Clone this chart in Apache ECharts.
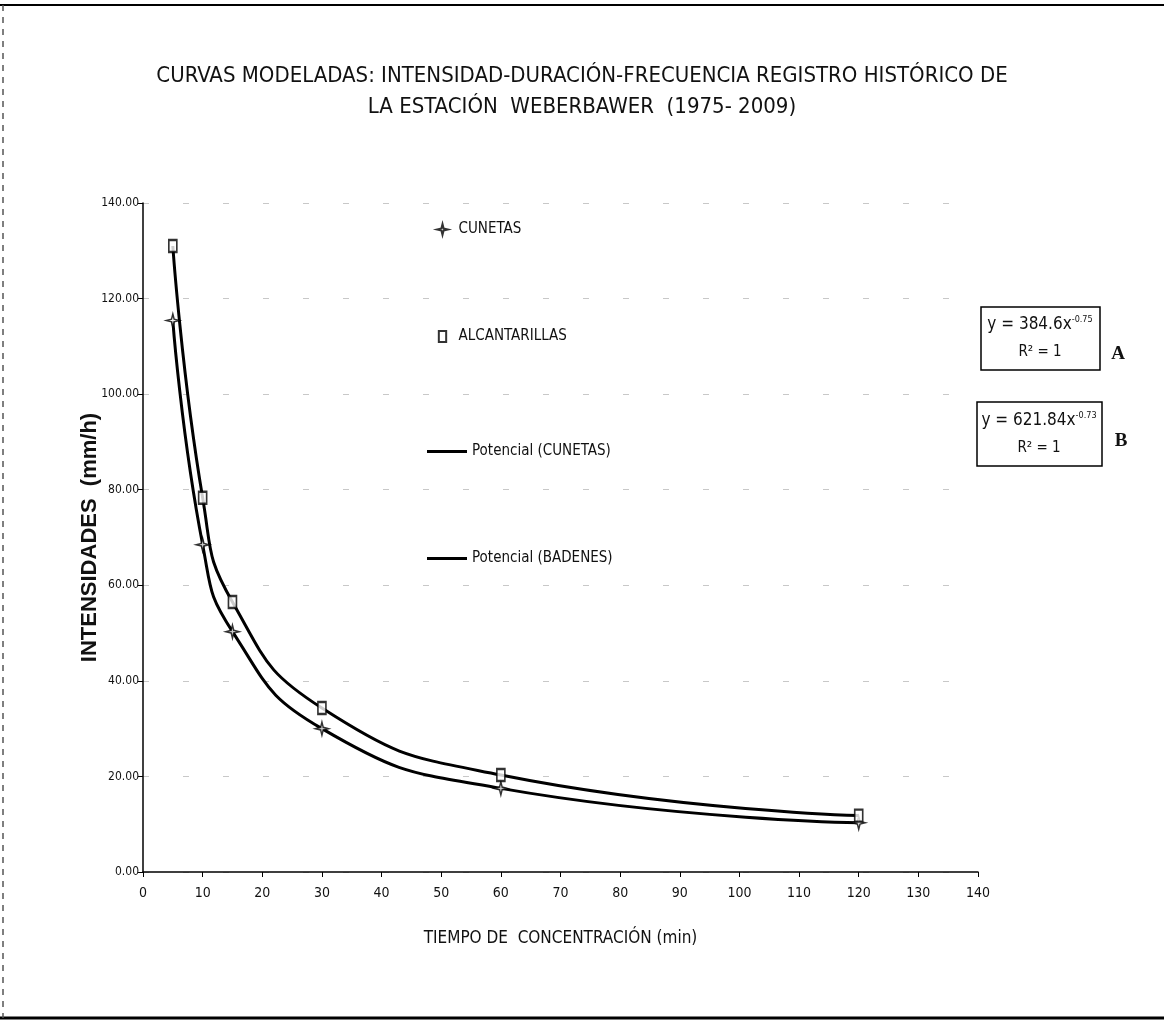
<!DOCTYPE html>
<html><head><meta charset="utf-8">
<script src="https://cdn.jsdelivr.net/npm/echarts@6/dist/echarts.min.js"></script>
<style>html,body{margin:0;padding:0;background:#fff}#c{width:1164px;height:1029px}</style>
</head><body><div id="c"></div>
<script>
const tiempos = [5, 10, 15, 30, 60, 120];
const cunetas = [115.4, 68.5, 50.3, 30.0, 17.5, 10.3];
const alcantarillas = [131.0, 78.3, 56.5, 34.3, 20.3, 11.8];
const titleLines = ['CURVAS MODELADAS: INTENSIDAD-DURACIÓN-FRECUENCIA REGISTRO HISTÓRICO DE', 'LA ESTACIÓN  WEBERBAWER  (1975- 2009)'];
const seriesNames = ['CUNETAS', 'ALCANTARILLAS', 'Potencial (CUNETAS)', 'Potencial (BADENES)'];

const NARROW = "'Liberation Sans Narrow', 'Arial Narrow', 'DejaVu Sans Condensed', sans-serif";
const pair = (xs, ys) => xs.map((x, i) => [x, ys[i]]);
const star = 'path://M0,-10 L2,-2 L10,0 L2,2 L0,10 L-2,2 L-10,0 L-2,-2 Z';
const box = 'path://M0,0 L8,0 L8,12 L0,12 Z';

const chart = echarts.init(document.getElementById('c'), null, {renderer: 'canvas'});
chart.setOption({
  backgroundColor: '#fff',
  animation: false,
  title: {
    text: titleLines.join('\n'),
    left: 'center', top: 56,
    textStyle: {fontFamily: NARROW, fontSize: 22, fontWeight: 'normal', color: '#111', lineHeight: 31}
  },
  grid: {left: 143, right: 186, top: 203, bottom: 157},
  legend: [
    {
      orient: 'vertical', left: 431, top: 217, itemGap: 92, itemWidth: 22, itemHeight: 11,
      textStyle: {fontFamily: NARROW, fontSize: 15, color: '#111'},
      data: [seriesNames[0], seriesNames[1]]
    },
    {
      orient: 'vertical', left: 422, top: 439, itemGap: 92, itemWidth: 40, itemHeight: 3,
      textStyle: {fontFamily: NARROW, fontSize: 15, color: '#111'},
      data: [{name: seriesNames[2], icon: 'rect'}, {name: seriesNames[3], icon: 'rect'}]
    }
  ],
  xAxis: {
    type: 'value', min: 0, max: 140, interval: 10,
    name: 'TIEMPO DE  CONCENTRACIÓN (min)', nameLocation: 'middle', nameGap: 58,
    nameTextStyle: {fontFamily: NARROW, fontSize: 17, color: '#111'},
    axisLine: {lineStyle: {color: '#000', width: 1.5}},
    axisTick: {show: true, length: 5, lineStyle: {color: '#000'}},
    axisLabel: {fontFamily: NARROW, fontSize: 14, color: '#111', margin: 14},
    splitLine: {show: false}
  },
  yAxis: {
    type: 'value', min: 0, max: 140, interval: 20,
    name: 'INTENSIDADES  (mm/h)', nameLocation: 'middle', nameGap: 42, nameMoveOverlap: false,
    nameTextStyle: {fontFamily: 'Liberation Sans, Arial, sans-serif', fontSize: 22, fontWeight: 'bold', color: '#111'},
    axisLine: {show: true, lineStyle: {color: '#000', width: 1.5}},
    axisTick: {show: true, length: 5, lineStyle: {color: '#000'}},
    axisLabel: {fontFamily: NARROW, fontSize: 12, color: '#111', margin: 4, formatter: v => v.toFixed(2)},
    splitLine: {show: true, lineStyle: {color: '#c8c8c8', type: [6, 34], width: 1}}
  },
  series: [
    {name: seriesNames[0], type: 'scatter', data: pair(tiempos, cunetas), symbol: star, symbolSize: 13,
     itemStyle: {color: '#fff', borderColor: '#000', borderWidth: 1.5}, z: 5},
    {name: seriesNames[1], type: 'scatter', data: pair(tiempos, alcantarillas), symbol: box, symbolSize: [8, 12],
     itemStyle: {color: '#fff', borderColor: '#000', borderWidth: 2}, z: 5},
    {name: seriesNames[2], type: 'line', data: pair(tiempos, cunetas), smooth: 0.5,
     symbol: 'none', lineStyle: {color: '#000', width: 3}, itemStyle: {color: '#000'}},
    {name: seriesNames[3], type: 'line', data: pair(tiempos, alcantarillas), smooth: 0.5,
     symbol: 'none', lineStyle: {color: '#000', width: 3}, itemStyle: {color: '#000'}}
  ],
  graphic: [
    {type: 'line', shape: {x1: 0, y1: 5, x2: 1164, y2: 5}, style: {stroke: '#000', lineWidth: 2}},
    {type: 'line', shape: {x1: 0, y1: 1018, x2: 1164, y2: 1018}, style: {stroke: '#000', lineWidth: 3}},
    {type: 'line', shape: {x1: 3, y1: 5, x2: 3, y2: 1018}, style: {stroke: '#555', lineWidth: 1.5, lineDash: [6, 6]}},
    {type: 'rect', shape: {x: 981, y: 307, width: 119, height: 63}, style: {fill: '#fff', stroke: '#000', lineWidth: 1.5}},
    {type: 'text', x: 1040, y: 325, style: {
      text: '{b|y = 384.6x}{s|-0.75}', align: 'center', verticalAlign: 'middle',
      rich: {b: {fontFamily: NARROW, fontSize: 17, fill: '#111'}, s: {fontFamily: NARROW, fontSize: 9, fill: '#111', verticalAlign: 'top', padding: [0, 0, 10, 0]}}}},
    {type: 'text', x: 1040, y: 352, style: {text: 'R² = 1', align: 'center', verticalAlign: 'middle', font: "15px 'Liberation Sans Narrow', 'DejaVu Sans Condensed', sans-serif", fill: '#111'}},
    {type: 'text', x: 1118, y: 354, style: {text: 'A', align: 'center', verticalAlign: 'middle', font: "bold 19px 'Liberation Serif', serif", fill: '#111'}},
    {type: 'rect', shape: {x: 977, y: 402, width: 125, height: 64}, style: {fill: '#fff', stroke: '#000', lineWidth: 1.5}},
    {type: 'text', x: 1039, y: 421, style: {
      text: '{b|y = 621.84x}{s|-0.73}', align: 'center', verticalAlign: 'middle',
      rich: {b: {fontFamily: NARROW, fontSize: 17, fill: '#111'}, s: {fontFamily: NARROW, fontSize: 9, fill: '#111', verticalAlign: 'top', padding: [0, 0, 10, 0]}}}},
    {type: 'text', x: 1039, y: 448, style: {text: 'R² = 1', align: 'center', verticalAlign: 'middle', font: "15px 'Liberation Sans Narrow', 'DejaVu Sans Condensed', sans-serif", fill: '#111'}},
    {type: 'text', x: 1121, y: 441, style: {text: 'B', align: 'center', verticalAlign: 'middle', font: "bold 19px 'Liberation Serif', serif", fill: '#111'}}
  ]
});
</script></body></html>
